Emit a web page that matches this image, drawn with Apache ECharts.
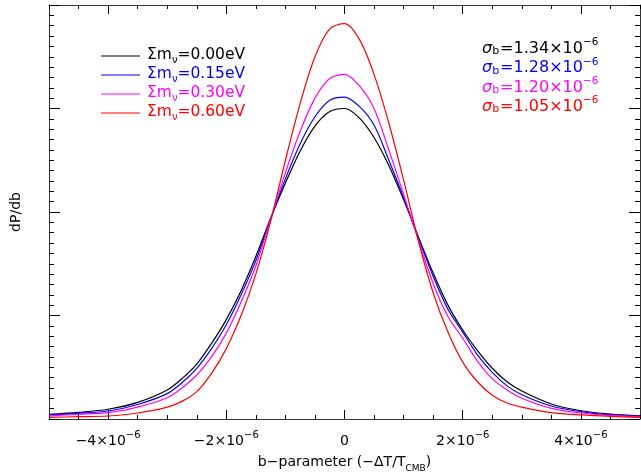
<!DOCTYPE html>
<html>
<head>
<meta charset="utf-8">
<script src="https://cdn.jsdelivr.net/npm/echarts@6/dist/echarts.min.js"></script>
<style>
html, body { margin: 0; padding: 0; background: #fff; }
#chart { width: 641px; height: 472px; }
</style>
</head>
<body>
<div id="chart"></div>
<script>
// b-parameter, in units of 1e-6
const bValues = [-5, -4.5, -4, -3.5, -3, -2.75, -2.5, -2.25, -2, -1.75, -1.5, -1.25, -1, -0.75, -0.5, -0.25, 0,
                 0.25, 0.5, 0.75, 1, 1.25, 1.5, 1.75, 2, 2.25, 2.5, 2.75, 3, 3.5, 4, 4.5, 5];

// dP/db, in units of 1e5
const dist000 = [0.045, 0.064, 0.094, 0.16, 0.28, 0.39, 0.53, 0.73, 0.96, 1.24, 1.57, 1.94, 2.28, 2.59, 2.83, 2.97, 3.00,
                 2.91, 2.72, 2.45, 2.12, 1.76, 1.41, 1.10, 0.86, 0.66, 0.49, 0.36, 0.27, 0.145, 0.08, 0.047, 0.03];
const dist015 = [0.04, 0.055, 0.077, 0.14, 0.245, 0.35, 0.49, 0.68, 0.91, 1.20, 1.53, 1.93, 2.32, 2.66, 2.92, 3.08, 3.11,
                 3.02, 2.84, 2.50, 2.14, 1.75, 1.38, 1.06, 0.84, 0.62, 0.45, 0.32, 0.235, 0.126, 0.07, 0.04, 0.026];
const dist030 = [0.03, 0.045, 0.061, 0.115, 0.205, 0.30, 0.425, 0.60, 0.83, 1.13, 1.48, 1.93, 2.38, 2.78, 3.10, 3.29, 3.33,
                 3.22, 3.00, 2.60, 2.17, 1.73, 1.31, 0.99, 0.78, 0.56, 0.39, 0.28, 0.20, 0.103, 0.058, 0.035, 0.022];
const dist060 = [0.016, 0.022, 0.029, 0.058, 0.115, 0.17, 0.264, 0.44, 0.68, 1.00, 1.40, 1.91, 2.50, 3.05, 3.50, 3.77, 3.82,
                 3.67, 3.33, 2.86, 2.31, 1.72, 1.22, 0.84, 0.55, 0.36, 0.23, 0.155, 0.115, 0.061, 0.039, 0.025, 0.016];

const massLabels = ['0.00', '0.15', '0.30', '0.60'];
const sigmaLabels = ['1.34', '1.28', '1.20', '1.05'];
const lineColors = ['#000000', '#0000ff', '#ff00ff', '#ff0000'];
const majorTicks = [-4, -2, 0, 2, 4];

const FONT = 'DejaVu Sans';
const chart = echarts.init(document.getElementById('chart'));

const dists = [dist000, dist015, dist030, dist060];
const names = massLabels.map(m => 'Σmν=' + m + 'eV');

function tickLabel(v) {
    if (v === 0) return '{m|0}';
    return '{m|' + (v < 0 ? '−' : '') + Math.abs(v) + '×10}{e|−6}';
}

// 坐标轴公共样式
const axisLine = { show: true, onZero: false, lineStyle: { color: '#333', width: 1 } };

function xAxisPair(position) {
    return [
        {
            type: 'value', position: position, min: -5, max: 5,
            axisLine: axisLine,
            axisTick: { show: true, inside: true, length: 9, customValues: majorTicks, lineStyle: { color: '#000' } },
            axisLabel: {
                show: position === 'bottom', customValues: majorTicks, margin: 11,
                formatter: tickLabel,
                rich: {
                    m: { fontFamily: FONT, fontSize: 14, color: '#000', lineHeight: 18, verticalAlign: 'bottom' },
                    e: { fontFamily: FONT, fontSize: 10, color: '#000', verticalAlign: 'top', lineHeight: 18 }
                }
            },
            splitLine: { show: false },
            name: position === 'bottom' ? '{n|b−parameter (−ΔT/T}{s|CMB}{n|)}' : '',
            nameLocation: 'middle', nameGap: 36,
            nameTextStyle: {
                rich: {
                    n: { fontFamily: FONT, fontSize: 14, color: '#000', lineHeight: 18, verticalAlign: 'top' },
                    s: { fontFamily: FONT, fontSize: 9, color: '#000', verticalAlign: 'bottom', lineHeight: 18 }
                }
            }
        },
        {
            type: 'value', position: position, min: -5, max: 5, interval: 0.5,
            axisLine: { show: false, onZero: false },
            axisTick: { show: true, inside: true, length: 4, lineStyle: { color: '#000' } },
            axisLabel: { show: false },
            splitLine: { show: false }
        }
    ];
}

function yAxis(position) {
    return {
        type: 'value', position: position, min: 0, max: 4, interval: 1,
        axisLine: axisLine,
        axisTick: { show: true, inside: true, length: 11, lineStyle: { color: '#000' } },
        minorTick: { show: true, splitNumber: 10, length: 5, lineStyle: { color: '#000' } },
        axisLabel: { show: false },
        splitLine: { show: false },
        name: position === 'left' ? 'dP/db' : '',
        nameLocation: 'middle', nameGap: 26,
        nameTextStyle: { fontFamily: FONT, fontSize: 14, color: '#000' }
    };
}

const sigmaTitles = sigmaLabels.map((s, i) => {
    const c = lineColors[i];
    return {
        left: 477, top: 32 + i * 19.3,
        text: '{g|σ}{b|b}{t|=' + s + '×10}{e|−6}',
        textStyle: {
            fontWeight: 'normal',
            rich: {
                g: { fontFamily: FONT, fontSize: 16, fontStyle: 'italic', fontWeight: 'normal', color: c, lineHeight: 20, verticalAlign: 'bottom' },
                b: { fontFamily: FONT, fontSize: 11, fontWeight: 'normal', color: c, lineHeight: 20, verticalAlign: 'bottom', padding: [0, 1, 0, 0] },
                t: { fontFamily: FONT, fontSize: 16, fontWeight: 'normal', color: c, lineHeight: 20, verticalAlign: 'bottom' },
                e: { fontFamily: FONT, fontSize: 10.5, fontWeight: 'normal', color: c, lineHeight: 20, verticalAlign: 'top' }
            }
        }
    };
});

const option = {
    backgroundColor: '#fff',
    animation: false,
    grid: { left: 49, right: 1, top: 5, bottom: 53, outerBoundsMode: 'none', containLabel: false },
    title: sigmaTitles,
    legend: {
        orient: 'vertical', left: 96, top: 42,
        icon: 'rect', itemWidth: 39, itemHeight: 1.2, itemGap: 1,
        data: names.map((n, i) => ({ name: n, textStyle: { color: lineColors[i] } })),
        formatter: function (name) {
            return '{a|Σm}{s|ν}{a|' + name.slice(3) + '}';
        },
        textStyle: {
            padding: [0, 0, 0, 2],
            rich: {
                a: { fontFamily: FONT, fontSize: 15.5, lineHeight: 18, verticalAlign: 'top' },
                s: { fontFamily: FONT, fontSize: 10, lineHeight: 18, verticalAlign: 'bottom' }
            }
        }
    },
    xAxis: xAxisPair('bottom').concat(xAxisPair('top')),
    yAxis: [yAxis('left'), yAxis('right')],
    series: dists.map((d, i) => ({
        name: names[i],
        type: 'line',
        xAxisIndex: 0,
        yAxisIndex: 0,
        data: bValues.map((b, j) => [b, d[j]]),
        smooth: 0.3,
        symbol: 'none',
        lineStyle: { color: lineColors[i], width: 1.2 },
        itemStyle: { color: lineColors[i] }
    }))
};
chart.setOption(option);
</script>
</body>
</html>
